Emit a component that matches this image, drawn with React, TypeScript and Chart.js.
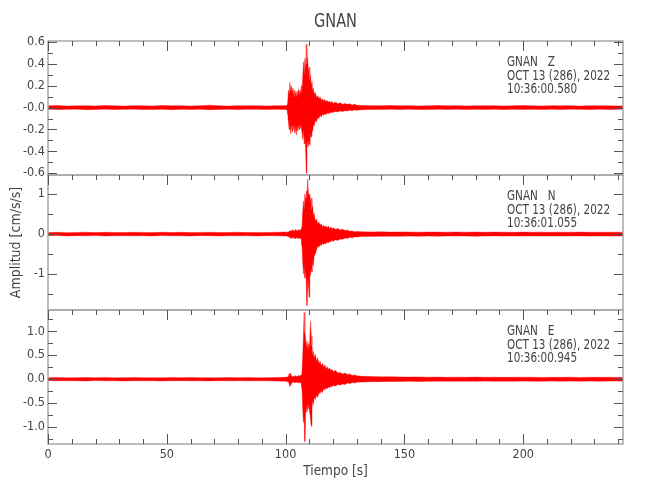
import React, { useEffect, useRef } from 'react';
import { Chart, registerables } from 'chart.js';

Chart.register(...registerables);

const FONT = "'Liberation Sans Narrow', 'DejaVu Sans Condensed', 'Liberation Sans', sans-serif";
const TEXT = '#444444';
const RED = 'rgb(255,0,0)';

// ---- text ----
const TITLE = 'GNAN';
const STATION = 'GNAN';
const COMPONENTS = ['Z', 'N', 'E'];
const DATE_LABEL = 'OCT 13 (286), 2022';
const START_TIMES = ['10:36:00.580', '10:36:01.055', '10:36:00.945'];
const Y_TITLE = 'Amplitud [cm/s/s]';
const X_TITLE = 'Tiempo [s]';

// ---- x axis ----
const X_MIN = 0;
const X_MAX = 242;
const X_MAJOR = [0, 50, 100, 150, 200];
const X_LABELS = ['0', '50', '100', '150', '200'];
const X_MINOR = [10, 20, 30, 40, 60, 70, 80, 90, 110, 120, 130, 140, 160, 170, 180, 190, 210, 220, 230, 240];

// ---- y axes ----
const Z_MIN = -0.62, Z_MAX = 0.61;
const Z_MAJOR = [0.6, 0.4, 0.2, 0, -0.2, -0.4, -0.6];
const Z_LABELS = ['0.6', '0.4', '0.2', '-0.0', '-0.2', '-0.4', '-0.6'];
const Z_MINOR = [0.5, 0.3, 0.1, -0.1, -0.3, -0.5];

const N_MIN = -1.89, N_MAX = 1.47;
const N_MAJOR = [1, 0, -1];
const N_LABELS = ['1', '0', '-1'];
const N_MINOR = [0.5, -0.5, -1.5];

const E_MIN = -1.35, E_MAX = 1.45;
const E_MAJOR = [1.0, 0.5, 0.0, -0.5, -1.0];
const E_LABELS = ['1.0', '0.5', '0.0', '-0.5', '-1.0'];
const E_MINOR = [1.25, 0.75, 0.25, -0.25, -0.75, -1.25];

// ---- time grid (s) ----
const PRE_T = [0, 4, 8, 12, 16, 20, 24, 28, 32, 36, 40, 44, 48, 52, 56, 60, 64, 68, 72, 76, 80, 84, 88, 92, 96];
const EVT_T = [
  100.0, 100.3, 100.6, 100.9, 101.2, 101.5, 101.8, 102.1, 102.4, 102.7,
  103.0, 103.3, 103.6, 103.9, 104.2, 104.5, 104.8, 105.1, 105.4, 105.7,
  106.0, 106.3, 106.6, 106.9, 107.2, 107.5, 107.8, 108.1, 108.4, 108.7,
  109.0, 109.3, 109.6, 109.9, 110.2, 110.5, 110.8, 111.1, 111.4, 111.7,
  112.0, 112.5, 113.0, 113.5, 114.0, 114.5, 115.0, 115.5, 116.0, 116.5,
  117.0, 117.5, 118.0, 118.5, 119.0, 119.5, 120.0, 121, 122, 123,
  124, 125, 126, 127, 128, 129, 130,
];
const POST_T = [132, 136, 140, 144, 148, 152, 156, 160, 164, 168, 172, 176, 180, 184, 188, 192, 196, 200, 204, 208, 212, 216, 220, 224, 228, 232, 236, 240, 242];

// ---- Z component envelope (upper / lower) ----
const Z_PRE_UP = [0.016, 0.019, 0.014, 0.017, 0.018, 0.015, 0.02, 0.016, 0.014, 0.018, 0.017, 0.015, 0.019, 0.016, 0.018, 0.014, 0.017, 0.022, 0.016, 0.015, 0.018, 0.016, 0.017, 0.015, 0.018];
const Z_PRE_LO = [-0.015, -0.018, -0.016, -0.014, -0.019, -0.017, -0.015, -0.018, -0.016, -0.014, -0.018, -0.017, -0.015, -0.019, -0.016, -0.018, -0.015, -0.02, -0.017, -0.014, -0.018, -0.016, -0.015, -0.017, -0.016];
const Z_EVT_UP = [
  0.018, 0.02, 0.022, 0.05, 0.16, 0.12, 0.23, 0.15, 0.2, 0.13,
  0.18, 0.11, 0.16, 0.1, 0.14, 0.09, 0.15, 0.12, 0.17, 0.11,
  0.16, 0.13, 0.2, 0.14, 0.28, 0.42, 0.3, 0.45, 0.35, 0.58,
  0.4, 0.46, 0.32, 0.37, 0.26, 0.3, 0.2, 0.24, 0.15, 0.18,
  0.12, 0.14, 0.09, 0.11, 0.08, 0.1, 0.07, 0.08, 0.06, 0.075,
  0.055, 0.065, 0.05, 0.06, 0.045, 0.055, 0.04, 0.05, 0.035, 0.045,
  0.03, 0.038, 0.03, 0.035, 0.025, 0.03, 0.022,
];
const Z_EVT_LO = [
  -0.018, -0.02, -0.02, -0.06, -0.14, -0.2, -0.13, -0.24, -0.16, -0.22,
  -0.15, -0.2, -0.14, -0.23, -0.17, -0.25, -0.16, -0.21, -0.15, -0.2,
  -0.14, -0.19, -0.16, -0.22, -0.29, -0.2, -0.33, -0.25, -0.37, -0.6,
  -0.38, -0.3, -0.36, -0.28, -0.34, -0.24, -0.27, -0.2, -0.22, -0.15,
  -0.17, -0.12, -0.13, -0.09, -0.1, -0.07, -0.085, -0.06, -0.07, -0.055,
  -0.065, -0.05, -0.055, -0.045, -0.05, -0.04, -0.045, -0.035, -0.04, -0.03,
  -0.035, -0.028, -0.03, -0.025, -0.028, -0.022, -0.025,
];
const Z_POST_UP = [0.02, 0.018, 0.017, 0.019, 0.016, 0.018, 0.015, 0.017, 0.019, 0.016, 0.018, 0.015, 0.017, 0.016, 0.018, 0.015, 0.017, 0.019, 0.016, 0.015, 0.018, 0.016, 0.017, 0.015, 0.018, 0.016, 0.017, 0.015, 0.016];
const Z_POST_LO = [-0.019, -0.017, -0.018, -0.016, -0.018, -0.015, -0.017, -0.018, -0.016, -0.017, -0.015, -0.018, -0.016, -0.017, -0.015, -0.018, -0.016, -0.017, -0.015, -0.018, -0.016, -0.017, -0.015, -0.016, -0.018, -0.015, -0.017, -0.016, -0.016];

// ---- N component envelope ----
const N_PRE_UP = [0.04, 0.045, 0.036, 0.043, 0.047, 0.039, 0.045, 0.041, 0.037, 0.045, 0.043, 0.039, 0.047, 0.04, 0.045, 0.038, 0.043, 0.045, 0.04, 0.042, 0.045, 0.039, 0.043, 0.041, 0.045];
const N_PRE_LO = [-0.041, -0.037, -0.045, -0.04, -0.043, -0.038, -0.045, -0.042, -0.039, -0.044, -0.04, -0.045, -0.038, -0.043, -0.041, -0.045, -0.039, -0.042, -0.045, -0.04, -0.043, -0.041, -0.045, -0.039, -0.042];
const N_EVT_UP = [
  0.05, 0.04, 0.05, 0.06, 0.05, 0.07, 0.09, 0.06, 0.1, 0.07,
  0.11, 0.08, 0.1, 0.07, 0.12, 0.08, 0.1, 0.07, 0.11, 0.08,
  0.12, 0.09, 0.13, 0.2, 0.55, 0.83, 0.6, 1.0, 0.8, 1.08,
  0.9, 1.38, 1.05, 0.95, 1.0, 0.78, 0.9, 0.62, 0.7, 0.45,
  0.52, 0.33, 0.38, 0.25, 0.3, 0.22, 0.26, 0.18, 0.22, 0.17,
  0.21, 0.15, 0.2, 0.14, 0.18, 0.13, 0.16, 0.12, 0.14, 0.1,
  0.12, 0.09, 0.1, 0.07, 0.08, 0.06, 0.065,
];
const N_EVT_LO = [
  -0.05, -0.045, -0.05, -0.06, -0.07, -0.05, -0.1, -0.07, -0.12, -0.08,
  -0.1, -0.07, -0.11, -0.08, -0.12, -0.09, -0.1, -0.08, -0.12, -0.09,
  -0.11, -0.1, -0.14, -0.3, -0.7, -1.0, -0.75, -1.1, -0.9, -1.25,
  -1.79, -1.1, -1.3, -1.58, -1.08, -1.0, -0.85, -0.95, -0.7, -0.8,
  -0.55, -0.5, -0.4, -0.3, -0.33, -0.26, -0.29, -0.23, -0.26, -0.22,
  -0.25, -0.2, -0.22, -0.18, -0.2, -0.16, -0.18, -0.14, -0.16, -0.12,
  -0.13, -0.1, -0.11, -0.08, -0.09, -0.07, -0.07,
];
const N_POST_UP = [0.06, 0.055, 0.058, 0.05, 0.055, 0.052, 0.048, 0.053, 0.05, 0.047, 0.052, 0.049, 0.05, 0.046, 0.05, 0.048, 0.045, 0.05, 0.047, 0.049, 0.045, 0.048, 0.046, 0.05, 0.045, 0.047, 0.046, 0.048, 0.046];
const N_POST_LO = [-0.062, -0.057, -0.055, -0.052, -0.056, -0.05, -0.053, -0.049, -0.052, -0.048, -0.05, -0.047, -0.051, -0.048, -0.046, -0.05, -0.047, -0.049, -0.045, -0.048, -0.046, -0.05, -0.045, -0.047, -0.049, -0.045, -0.048, -0.046, -0.046];

// ---- E component envelope ----
const E_PRE_UP = [0.032, 0.035, 0.029, 0.033, 0.037, 0.031, 0.034, 0.03, 0.033, 0.036, 0.031, 0.033, 0.029, 0.034, 0.032, 0.035, 0.03, 0.033, 0.031, 0.035, 0.032, 0.034, 0.03, 0.033, 0.035];
const E_PRE_LO = [-0.031, -0.034, -0.03, -0.033, -0.035, -0.029, -0.033, -0.032, -0.036, -0.03, -0.033, -0.031, -0.035, -0.032, -0.03, -0.034, -0.032, -0.035, -0.03, -0.033, -0.031, -0.034, -0.032, -0.033, -0.035];
const E_EVT_UP = [
  0.04, 0.05, 0.04, 0.05, 0.06, 0.12, 0.08, 0.13, 0.07, 0.06,
  0.05, 0.07, 0.05, 0.06, 0.08, 0.05, 0.07, 0.06, 0.08, 0.06,
  0.07, 0.09, 0.07, 0.15, 0.5, 0.9, 1.39, 1.0, 0.86, 0.65,
  0.8, 0.6, 0.75, 0.62, 0.85, 1.21, 0.9, 0.72, 0.5, 0.58,
  0.45, 0.52, 0.37, 0.45, 0.32, 0.38, 0.28, 0.33, 0.25, 0.3,
  0.22, 0.26, 0.2, 0.24, 0.18, 0.21, 0.16, 0.18, 0.13, 0.14,
  0.11, 0.13, 0.1, 0.11, 0.08, 0.09, 0.07,
];
const E_EVT_LO = [
  -0.04, -0.045, -0.05, -0.04, -0.06, -0.1, -0.15, -0.08, -0.12, -0.06,
  -0.07, -0.05, -0.07, -0.06, -0.08, -0.06, -0.07, -0.05, -0.08, -0.07,
  -0.06, -0.08, -0.09, -0.2, -0.6, -0.9, -0.8, -1.3, -0.75, -0.54,
  -0.68, -0.5, -0.62, -0.55, -0.7, -0.85, -0.98, -0.6, -0.45, -0.53,
  -0.38, -0.42, -0.33, -0.38, -0.28, -0.3, -0.24, -0.28, -0.2, -0.22,
  -0.18, -0.2, -0.16, -0.18, -0.14, -0.16, -0.13, -0.14, -0.11, -0.12,
  -0.1, -0.11, -0.08, -0.09, -0.07, -0.08, -0.065,
];
const E_POST_UP = [0.06, 0.055, 0.05, 0.052, 0.048, 0.045, 0.047, 0.043, 0.045, 0.04, 0.043, 0.041, 0.044, 0.04, 0.042, 0.039, 0.041, 0.043, 0.04, 0.038, 0.041, 0.039, 0.042, 0.038, 0.04, 0.039, 0.041, 0.038, 0.04];
const E_POST_LO = [-0.058, -0.052, -0.05, -0.047, -0.049, -0.044, -0.046, -0.042, -0.044, -0.041, -0.043, -0.04, -0.042, -0.039, -0.041, -0.04, -0.042, -0.038, -0.04, -0.041, -0.038, -0.04, -0.039, -0.041, -0.038, -0.04, -0.039, -0.038, -0.04];

const TIMES = [...PRE_T, ...EVT_T, ...POST_T];

type Panel = {
  id: string;
  min: number;
  max: number;
  major: number[];
  labels: string[];
  minor: number[];
  up: number[];
  lo: number[];
  weight: number;
};

const PANELS: Panel[] = [
  { id: 'yZ', min: Z_MIN, max: Z_MAX, major: Z_MAJOR, labels: Z_LABELS, minor: Z_MINOR, up: [...Z_PRE_UP, ...Z_EVT_UP, ...Z_POST_UP], lo: [...Z_PRE_LO, ...Z_EVT_LO, ...Z_POST_LO], weight: 3 },
  { id: 'yN', min: N_MIN, max: N_MAX, major: N_MAJOR, labels: N_LABELS, minor: N_MINOR, up: [...N_PRE_UP, ...N_EVT_UP, ...N_POST_UP], lo: [...N_PRE_LO, ...N_EVT_LO, ...N_POST_LO], weight: 2 },
  { id: 'yE', min: E_MIN, max: E_MAX, major: E_MAJOR, labels: E_LABELS, minor: E_MINOR, up: [...E_PRE_UP, ...E_EVT_UP, ...E_POST_UP], lo: [...E_PRE_LO, ...E_EVT_LO, ...E_POST_LO], weight: 1 },
];

const framePlugin = {
  id: 'seisFrames',
  afterDraw(chart: any) {
    const ctx: CanvasRenderingContext2D = chart.ctx;
    const { left, right } = chart.chartArea;
    const xs = chart.scales.x;
    ctx.save();
    PANELS.forEach((p, i) => {
      const s = chart.scales[p.id];
      const top = Math.round(s.top);
      const bottom = Math.round(s.bottom);
      // frame
      ctx.strokeStyle = '#a8a8a8';
      ctx.lineWidth = 1.5;
      ctx.strokeRect(left, top, right - left, bottom - top);
      // y ticks (inward, both sides)
      ctx.strokeStyle = '#555555';
      ctx.lineWidth = 1;
      const yTick = (v: number, len: number) => {
        const y = Math.round(s.getPixelForValue(v)) + 0.5;
        ctx.beginPath();
        ctx.moveTo(left, y);
        ctx.lineTo(left + len, y);
        ctx.moveTo(right, y);
        ctx.lineTo(right - len, y);
        ctx.stroke();
      };
      p.major.forEach((v) => yTick(v, 9));
      p.minor.forEach((v) => yTick(v, 5));
      // x ticks at top of panel (pointing down)
      const xTick = (v: number, y0: number, len: number) => {
        const x = Math.round(xs.getPixelForValue(v)) + 0.5;
        ctx.beginPath();
        ctx.moveTo(x, y0);
        ctx.lineTo(x, y0 + len);
        ctx.stroke();
      };
      X_MAJOR.forEach((v) => xTick(v, top, 10));
      X_MINOR.forEach((v) => xTick(v, top, 5));
      if (i === PANELS.length - 1) {
        X_MAJOR.forEach((v) => xTick(v, bottom, -10));
        X_MINOR.forEach((v) => xTick(v, bottom, -5));
      }
      // annotation text (horizontally condensed like the original plot font)
      ctx.save();
      ctx.fillStyle = TEXT;
      ctx.font = `13.5px ${FONT}`;
      ctx.textAlign = 'left';
      ctx.textBaseline = 'middle';
      ctx.translate(507, top);
      ctx.scale(0.86, 1);
      ctx.fillText(`${STATION}   ${COMPONENTS[i]}`, 0, 21);
      ctx.fillText(DATE_LABEL, 0, 35);
      ctx.fillText(START_TIMES[i], 0, 48);
      ctx.restore();
    });
    // title
    ctx.fillStyle = TEXT;
    ctx.textAlign = 'center';
    ctx.textBaseline = 'middle';
    ctx.translate((left + right) / 2, 22);
    ctx.scale(0.85, 1);
    ctx.font = `19px ${FONT}`;
    ctx.fillText(TITLE, 0, 0);
    ctx.restore();
  },
};

export default function App() {
  const ref = useRef<HTMLCanvasElement | null>(null);

  useEffect(() => {
    if (!ref.current) return;
    const datasets: any[] = [];
    PANELS.forEach((p) => {
      datasets.push({
        label: p.id + ' up',
        yAxisID: p.id,
        data: TIMES.map((t, i) => ({ x: t, y: p.up[i] })),
        borderColor: 'rgba(255,0,0,0.5)',
        borderWidth: 0.8,
        pointRadius: 0,
        fill: false,
      });
      datasets.push({
        label: p.id + ' lo',
        yAxisID: p.id,
        data: TIMES.map((t, i) => ({ x: t, y: p.lo[i] })),
        borderColor: 'rgba(255,0,0,0.5)',
        borderWidth: 0.8,
        pointRadius: 0,
        fill: '-1',
        backgroundColor: RED,
      });
    });

    const scales: any = {
      x: {
        type: 'linear',
        position: 'bottom',
        min: X_MIN,
        max: X_MAX,
        grid: { display: false, drawTicks: false },
        border: { display: false },
        afterBuildTicks: (s: any) => {
          s.ticks = X_MAJOR.map((v) => ({ value: v }));
        },
        afterFit: (s: any) => {
          s.height = 56;
        },
        ticks: {
          autoSkip: false,
          maxRotation: 0,
          padding: 3,
          color: TEXT,
          font: { family: FONT, size: 12.5 },
          callback: (_v: any, i: number) => X_LABELS[i],
        },
        title: {
          display: true,
          text: X_TITLE,
          color: TEXT,
          font: { family: FONT, size: 13.5 },
          padding: { top: 0, bottom: 20 },
        },
      },
    };
    PANELS.forEach((p, idx) => {
      scales[p.id] = {
        type: 'linear',
        position: 'left',
        stack: 'seis',
        stackWeight: 1,
        weight: p.weight,
        min: p.min,
        max: p.max,
        grid: { display: false, drawTicks: false },
        border: { display: false },
        afterBuildTicks: (s: any) => {
          s.ticks = p.major.map((v) => ({ value: v }));
        },
        afterFit: (s: any) => {
          s.width = 48;
        },
        ticks: {
          autoSkip: false,
          padding: 3,
          color: TEXT,
          font: { family: FONT, size: 12.5 },
          callback: (_v: any, i: number) => p.labels[i],
        },
        title: {
          display: idx === 1,
          text: Y_TITLE,
          color: TEXT,
          font: { family: FONT, size: 14 },
          padding: { top: 8, bottom: 0 },
        },
      };
    });

    const chart = new Chart(ref.current, {
      type: 'line',
      data: { datasets },
      options: {
        responsive: false,
        animation: false,
        devicePixelRatio: 1,
        layout: { padding: { top: 41, right: 27, left: 0, bottom: 0 } },
        plugins: {
          legend: { display: false },
          tooltip: { enabled: false },
          title: { display: false },
        },
        elements: { line: { tension: 0 }, point: { radius: 0 } },
        scales,
      },
      plugins: [framePlugin],
    } as any);
    return () => chart.destroy();
  }, []);

  return (
    <div style={{ position: 'fixed', left: 0, top: 0, width: 650, height: 500, background: '#ffffff' }}>
      <canvas ref={ref} width={650} height={500} style={{ display: 'block' }} />
    </div>
  );
}
